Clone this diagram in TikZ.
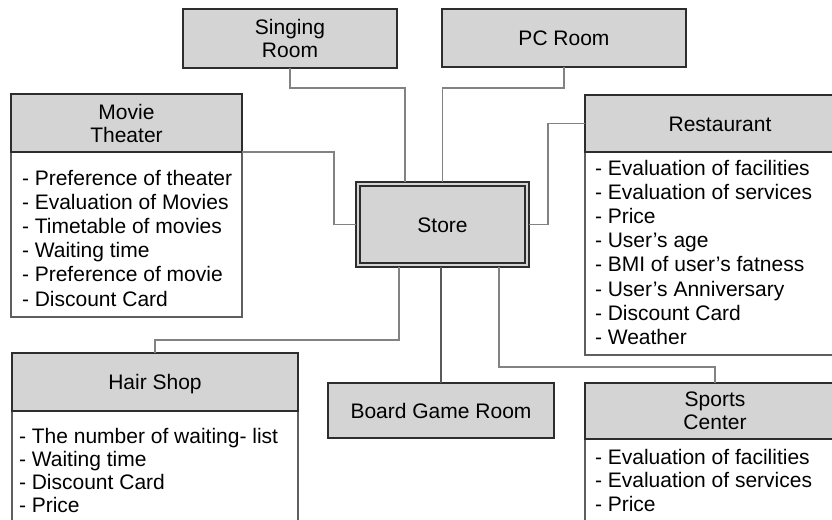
\documentclass[tikz,border=0pt]{standalone}
\usepackage{fontspec}
\setmainfont{Liberation Sans}
\definecolor{hdrgray}{RGB}{212,212,212}
\definecolor{hdrline}{RGB}{45,45,45}
\definecolor{bodyline}{RGB}{95,95,95}
\definecolor{wire}{RGB}{130,130,130}
\begin{document}
\begin{tikzpicture}[x=1pt,y=-1pt,
  every node/.style={font=\fontsize{21pt}{24.2pt}\selectfont, text=black, outer sep=0pt},
  head/.style={draw=hdrline, line width=1.3pt, fill=hdrgray, anchor=north west, align=center, inner sep=0pt,
    font=\fontsize{21pt}{23pt}\selectfont},
  oneline/.style={text height=15pt, text depth=0pt},
  bodybox/.style={draw=bodyline, line width=1.1pt, fill=white, anchor=north west, inner sep=0pt},
  listtext/.style={anchor=north west, align=left, inner sep=0pt},
  conn/.style={draw=wire, line width=1.1pt},
  conndark/.style={draw=black!65, line width=1.1pt},
]
\useasboundingbox (0,0) rectangle (832,519);
\clip (0,0) rectangle (832,519);

% list bodies
\node[bodybox, minimum width=231pt, minimum height=165pt] (mt-body) at (11,152) {};
\node[bodybox, minimum width=270pt, minimum height=203pt] (rest-body) at (585,152) {};
\node[bodybox, minimum width=286pt, minimum height=140pt] (hair-body) at (12,411) {};
\node[bodybox, minimum width=260pt, minimum height=120pt] (sp-body) at (585,439) {};

% title boxes
\node[head, minimum width=214pt, minimum height=59pt] (sing) at (183,9) {Singing\\Room};
\node[head, oneline, minimum width=244pt, minimum height=58pt] (pc) at (442,9) {PC Room};
\node[head, minimum width=231pt, minimum height=58pt] (mt-head) at (11,94) {Movie\\Theater};
\node[head, oneline, minimum width=270pt, minimum height=57pt] (rest) at (585,95) {Restaurant};
\node[head, oneline, minimum width=286pt, minimum height=58pt] (hair) at (12,353) {Hair Shop};
\node[head, oneline, minimum width=226pt, minimum height=55pt] (board) at (328,383) {Board Game Room};
\node[head, minimum width=260pt, minimum height=56pt] (sp-head) at (585,383) {Sports\\Center};

% central store box with double frame
\node[head, oneline, minimum width=173pt, minimum height=85pt] (store) at (356,182) {Store};
\draw[draw=hdrline, line width=1.2pt] ([shift={(4pt,-4pt)}]store.north west) rectangle ([shift={(-4pt,4pt)}]store.south east);

% list contents
\node[listtext] (mt-list) at (22,168) {\rule{0pt}{17pt}- Preference of theater\\- Evaluation of Movies\\- Timetable of movies\\- Waiting time\\- Preference of movie\\- Discount Card};
\node[listtext] (rest-list) at (595,158) {\rule{0pt}{17pt}- Evaluation of facilities\\- Evaluation of services\\- Price\\- User’s age\\- BMI of user’s fatness\\- User’s Anniversary\\- Discount Card\\- Weather};
\node[listtext, font=\fontsize{21pt}{23pt}\selectfont] (hair-list) at (19,426) {\rule{0pt}{17pt}- The number of waiting- list\\- Waiting time\\- Discount Card\\- Price};
\node[listtext, font=\fontsize{21pt}{23.5pt}\selectfont] (sp-list) at (595,447) {\rule{0pt}{17pt}- Evaluation of facilities\\- Evaluation of services\\- Price};

% connectors
\coordinate (j-sing) at (405,88);
\coordinate (j-pc) at (442.5,88);
\coordinate (j-mt) at (334,152);
\coordinate (j-rest) at (548,123.5);
\coordinate (j-hair) at (399,340);
\coordinate (j-sp) at (499,367);
\draw[conn] (sing.south) |- (j-sing) -- (j-sing |- store.north);
\draw[conn] (pc.south) |- (j-pc) -- (store.north);
\draw[conn] (mt-head.south east) -- (j-mt) |- (store.west);
\draw[conn] (rest.west) -- (j-rest) |- (store.east);
\draw[conn] (j-hair |- store.south) -- (j-hair) -| (hair.north);
\draw[conndark] (board.north |- store.south) -- (board.north);
\draw[conn] (j-sp |- store.south) -- (j-sp) -| (sp-head.north);
\end{tikzpicture}
\end{document}
